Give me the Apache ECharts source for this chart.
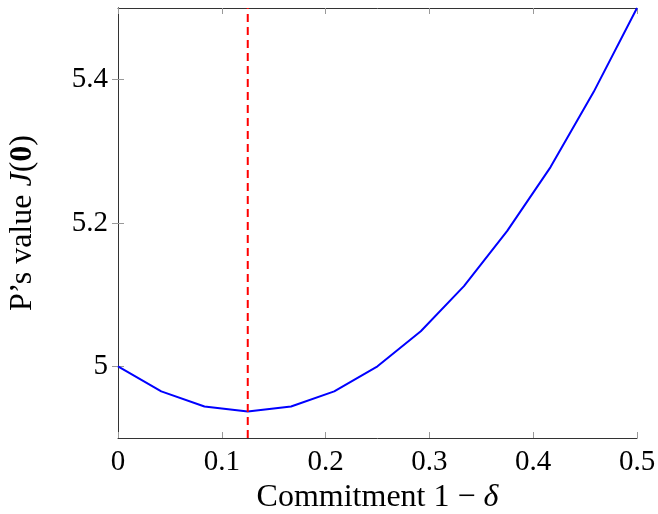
<!DOCTYPE html>
<html>
<head>
<meta charset="utf-8">
<script src="https://cdn.jsdelivr.net/npm/echarts@6/dist/echarts.min.js"></script>
<style>
  html, body { margin: 0; padding: 0; background: #fff; }
  #main { width: 658px; height: 514px; }
</style>
</head>
<body>
<div id="main"></div>
<script>
// commitment 1 - delta
var xValues = [0, 0.0417, 0.0833, 0.125, 0.1667, 0.2083, 0.25, 0.2917, 0.3333, 0.375, 0.4167, 0.4583, 0.5];
// P's value J(0)
var jValues = [5.0, 4.965, 4.944, 4.937, 4.944, 4.965, 5.0, 5.049, 5.112, 5.189, 5.278, 5.383, 5.5];
var optimumX = 0.125;
var yTicks = [5, 5.2, 5.4];
var xTicks = [0, 0.1, 0.2, 0.3, 0.4, 0.5];

var font = 'Liberation Serif';
var fs = 29;   // tick labels
var nfs = 32;  // axis titles
var myChart = echarts.init(document.getElementById('main'));

var lineData = xValues.map(function (x, i) { return [x, jValues[i]]; });

var tickStyle = { show: true, inside: true, length: 6, lineStyle: { color: '#999', width: 1 } };
var frameLine = { show: true, lineStyle: { color: '#333', width: 1 } };

myChart.setOption({
    animation: false,
    grid: { left: 118, right: 21, top: 8, bottom: 76, containLabel: false, outerBoundsMode: 'none' },
    xAxis: [
        {
            type: 'value', min: 0, max: 0.5, interval: 0.1,
            name: 'Commitment 1 − {i|δ}',
            nameLocation: 'middle', nameGap: 44,
            nameTextStyle: { fontFamily: font, fontSize: nfs, color: '#000',
                rich: { i: { fontFamily: font, fontStyle: 'italic', fontSize: nfs, color: '#000' } } },
            axisLine: frameLine,
            axisTick: Object.assign({ customValues: xTicks }, tickStyle),
            splitLine: { show: false },
            axisLabel: { fontFamily: font, fontSize: fs, color: '#000', margin: 10, customValues: xTicks,
                formatter: function (v) { return String(+v.toFixed(1)); } }
        },
        {
            type: 'value', min: 0, max: 0.5, interval: 0.1, position: 'top',
            axisLine: frameLine, axisTick: tickStyle, axisLabel: { show: false }, splitLine: { show: false }
        }
    ],
    yAxis: [
        {
            type: 'value', min: 4.9, max: 5.5,
            name: 'P’s value {i|J}({b|0})',
            nameLocation: 'middle', nameGap: 79, nameRotate: 90,
            nameTextStyle: { fontFamily: font, fontSize: nfs, color: '#000',
                rich: {
                    i: { fontFamily: font, fontStyle: 'italic', fontSize: nfs, color: '#000' },
                    b: { fontFamily: font, fontWeight: 'bold', fontSize: nfs, color: '#000' }
                } },
            axisLine: frameLine,
            axisTick: Object.assign({ customValues: yTicks }, tickStyle),
            splitLine: { show: false },
            axisLabel: { fontFamily: font, fontSize: fs, color: '#000', margin: 10, customValues: yTicks,
                formatter: function (v) { return String(+v.toFixed(1)); } }
        },
        {
            type: 'value', min: 4.9, max: 5.5, position: 'right',
            axisLine: frameLine,
            axisTick: Object.assign({ customValues: yTicks }, tickStyle),
            axisLabel: { show: false }, splitLine: { show: false }
        }
    ],
    series: [
        {
            type: 'line',
            data: lineData,
            showSymbol: false,
            symbol: 'none',
            lineStyle: { color: '#0000ff', width: 2 }
        },
        {
            type: 'line',
            data: [[optimumX, 4.9], [optimumX, 5.5]],
            showSymbol: false,
            symbol: 'none',
            lineStyle: { color: '#ff0000', width: 2, type: [8, 5] }
        }
    ]
});
</script>
</body>
</html>
